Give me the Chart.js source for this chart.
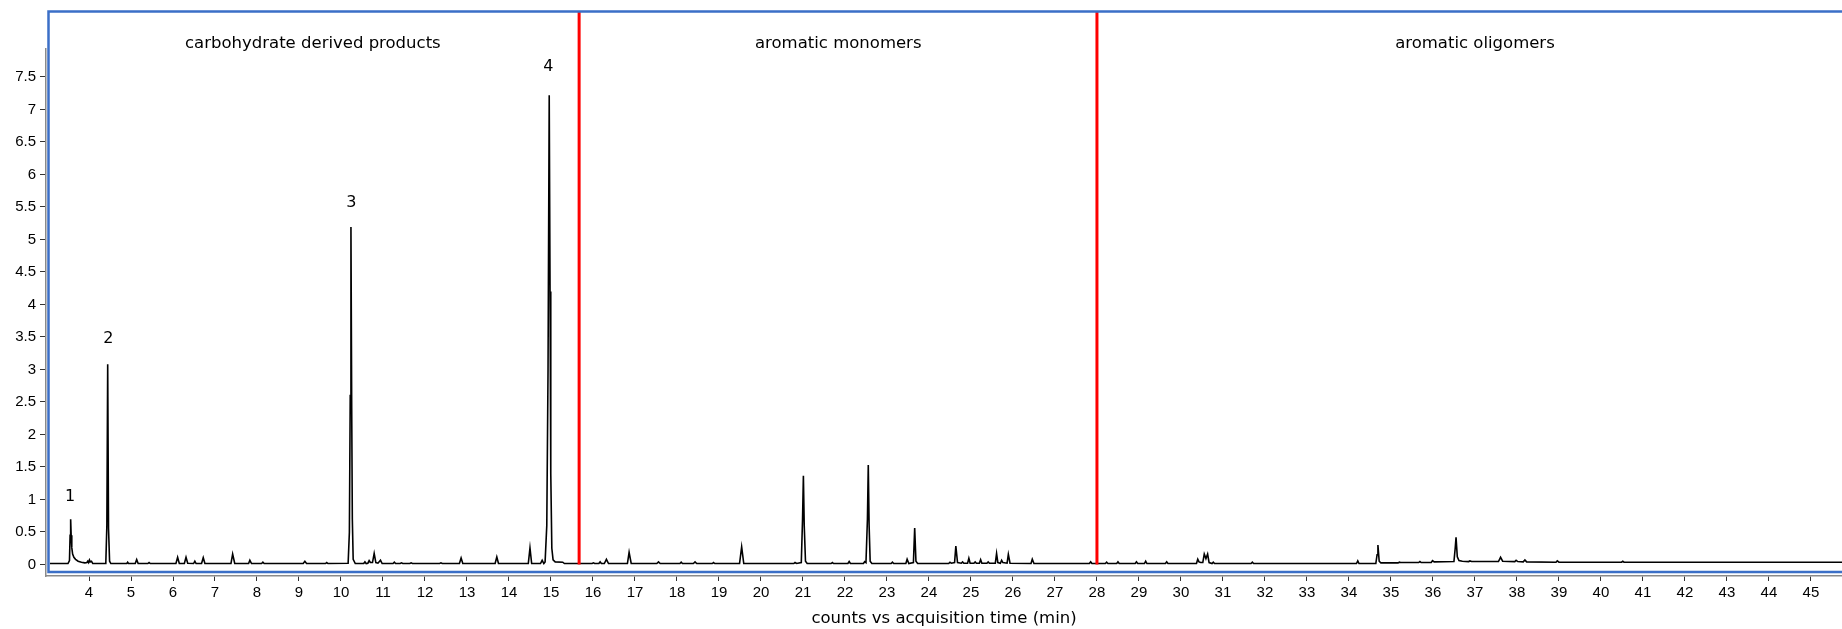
<!DOCTYPE html>
<html>
<head>
<meta charset="utf-8">
<script src="https://cdn.jsdelivr.net/npm/chart.js@4.4.1/dist/chart.umd.min.js"></script>
<style>
body { margin: 0; background: #fff; }
</style>
</head>
<body>
<canvas id="chromChart" width="1842" height="629"></canvas>
<script>
// retention time (min) / counts, split by region
const carbTimes = [
  3.07, 3.50, 3.535, 3.55, 3.563, 3.575, 3.59, 3.61, 3.64, 3.68, 3.74, 3.82, 3.90,
  3.95, 3.97, 3.99, 4.01, 4.03, 4.06, 4.09,
  4.40, 4.425, 4.445, 4.465, 4.49, 4.52,
  4.90, 4.92, 4.94, 5.10, 5.135, 5.17, 5.40, 5.43, 5.46,
  6.07, 6.11, 6.15, 6.27, 6.31, 6.35, 6.49, 6.52, 6.55, 6.68, 6.72, 6.76,
  7.38, 7.42, 7.47, 7.80, 7.83, 7.87, 8.11, 8.14, 8.17,
  9.10, 9.14, 9.18, 9.63, 9.66, 9.69,
  10.17, 10.20, 10.22, 10.237, 10.255, 10.27, 10.29, 10.34,
  10.54, 10.57, 10.60, 10.64, 10.67, 10.70, 10.75, 10.79, 10.83, 10.88, 10.94, 10.98,
  11.24, 11.27, 11.30, 11.41, 11.44, 11.47, 11.64, 11.67, 11.70,
  12.35, 12.38, 12.41, 12.82, 12.86, 12.90, 13.67, 13.71, 13.75,
  14.46, 14.50, 14.54, 14.75, 14.79, 14.83,
  14.86, 14.90, 14.93, 14.958, 14.978, 14.995, 15.02, 15.05, 15.10, 15.28, 15.32, 15.60
];
const carbCounts = [
  0.015, 0.015, 0.06, 0.45, 0.695, 0.45, 0.26, 0.16, 0.11, 0.08, 0.05, 0.035, 0.025,
  0.03, 0.05, 0.03, 0.07, 0.04, 0.05, 0.015,
  0.015, 0.6, 3.08, 0.55, 0.05, 0.015,
  0.015, 0.035, 0.015, 0.015, 0.075, 0.015, 0.015, 0.03, 0.015,
  0.015, 0.11, 0.015, 0.015, 0.11, 0.02, 0.015, 0.05, 0.015, 0.015, 0.105, 0.015,
  0.015, 0.16, 0.015, 0.015, 0.065, 0.015, 0.015, 0.035, 0.015,
  0.015, 0.05, 0.015, 0.015, 0.03, 0.015,
  0.02, 0.5, 2.6, 5.19, 2.4, 0.7, 0.08, 0.015,
  0.015, 0.04, 0.015, 0.02, 0.06, 0.03, 0.03, 0.17, 0.03, 0.02, 0.065, 0.015,
  0.015, 0.035, 0.015, 0.015, 0.025, 0.015, 0.015, 0.025, 0.015,
  0.015, 0.025, 0.015, 0.015, 0.10, 0.015, 0.015, 0.115, 0.015,
  0.015, 0.254, 0.015, 0.015, 0.065, 0.015,
  0.04, 0.6, 3.0, 7.22, 4.2, 1.4, 0.25, 0.07, 0.04, 0.035, 0.015, 0.015
];

const monoTimes = [
  15.98, 16.01, 16.04, 16.14, 16.17, 16.20, 16.27, 16.32, 16.37,
  16.82, 16.86, 16.91, 17.52, 17.56, 17.60, 18.07, 18.10, 18.13,
  18.39, 18.43, 18.47, 18.84, 18.87, 18.90, 19.49, 19.54, 19.59,
  20.78, 20.81, 20.85, 20.96, 20.99, 21.01, 21.03, 21.06, 21.10,
  21.67, 21.70, 21.73, 22.07, 22.10, 22.13,
  22.44, 22.47, 22.50, 22.535, 22.555, 22.575, 22.60, 22.64,
  23.10, 23.13, 23.16, 23.45, 23.48, 23.52, 23.63, 23.66, 23.69, 23.73,
  24.47, 24.50, 24.53, 24.61, 24.64, 24.68, 24.77, 24.80, 24.83,
  24.92, 24.95, 24.98, 25.07, 25.10, 25.13, 25.20, 25.23, 25.26,
  25.38, 25.41, 25.44, 25.58, 25.61, 25.64, 25.70, 25.73, 25.76,
  25.86, 25.89, 25.93, 26.43, 26.46, 26.50, 27.82, 27.85, 27.88
];
const monoCounts = [
  0.015, 0.025, 0.015, 0.015, 0.04, 0.015, 0.015, 0.08, 0.015,
  0.015, 0.187, 0.015, 0.015, 0.04, 0.015, 0.015, 0.035, 0.015,
  0.015, 0.04, 0.015, 0.015, 0.03, 0.015, 0.015, 0.27, 0.015,
  0.015, 0.03, 0.015, 0.03, 0.7, 1.366, 0.6, 0.05, 0.015,
  0.015, 0.03, 0.015, 0.015, 0.045, 0.015,
  0.015, 0.045, 0.03, 0.7, 1.53, 0.6, 0.05, 0.015,
  0.015, 0.035, 0.015, 0.015, 0.08, 0.015, 0.03, 0.56, 0.05, 0.015,
  0.015, 0.035, 0.02, 0.03, 0.285, 0.03, 0.02, 0.04, 0.02,
  0.02, 0.095, 0.02, 0.02, 0.04, 0.02, 0.02, 0.075, 0.02,
  0.02, 0.04, 0.02, 0.02, 0.17, 0.03, 0.02, 0.065, 0.03,
  0.02, 0.155, 0.02, 0.015, 0.08, 0.015, 0.015, 0.04, 0.015
];

const oligoTimes = [
  28.20, 28.23, 28.26, 28.47, 28.50, 28.53, 28.91, 28.94, 28.97,
  29.13, 29.16, 29.19, 29.63, 29.66, 29.69,
  30.37, 30.40, 30.43, 30.47, 30.52, 30.555, 30.595, 30.635, 30.67,
  30.74, 30.77, 30.80, 31.67, 31.70, 31.73, 34.18, 34.21, 34.24,
  34.64, 34.67, 34.69, 34.72, 34.76,
  35.17, 35.20, 35.23, 35.66, 35.69, 35.72, 35.96, 35.99, 36.03,
  36.50, 36.53, 36.55, 36.58, 36.62, 36.70,
  36.85, 36.88, 36.92, 37.56, 37.61, 37.66, 37.95, 37.98, 38.02,
  38.15, 38.19, 38.23, 38.93, 38.96, 39.00, 40.49, 40.52, 40.55, 45.80
];
const oligoCounts = [
  0.015, 0.035, 0.015, 0.015, 0.04, 0.015, 0.015, 0.04, 0.015,
  0.015, 0.05, 0.015, 0.015, 0.04, 0.015,
  0.015, 0.08, 0.04, 0.03, 0.03, 0.16, 0.09, 0.16, 0.03,
  0.015, 0.035, 0.015, 0.015, 0.035, 0.015, 0.015, 0.055, 0.015,
  0.015, 0.15, 0.30, 0.05, 0.025,
  0.025, 0.035, 0.03, 0.03, 0.045, 0.03, 0.03, 0.06, 0.04,
  0.045, 0.25, 0.42, 0.12, 0.06, 0.05,
  0.045, 0.055, 0.045, 0.045, 0.11, 0.05, 0.045, 0.065, 0.045,
  0.04, 0.07, 0.04, 0.035, 0.055, 0.035, 0.035, 0.05, 0.035, 0.035
];

const sectionNames = ['carbohydrate derived products', 'aromatic monomers', 'aromatic oligomers'];
const sectionCenters = [9.33, 21.84, 37.0];
const sectionBounds = [15.67, 28.0];

const peakNumbers = ['1', '2', '3', '4'];
const peakLabelTimes = [3.55, 4.46, 10.245, 14.94];
const peakLabelCounts = [0.97, 3.40, 5.50, 7.59];

const xTicks = [];
for (let m = 4; m <= 45; m++) xTicks.push(m);
const yTicks = [0, 0.5, 1, 1.5, 2, 2.5, 3, 3.5, 4, 4.5, 5, 5.5, 6, 6.5, 7, 7.5];

const allTimes = carbTimes.concat(monoTimes, oligoTimes);
const allCounts = carbCounts.concat(monoCounts, oligoCounts);
const points = allTimes.map((t, i) => ({ x: t, y: allCounts[i] }));

// blue frame, red section lines and the text labels on top
const overlay = {
  id: 'overlay',
  afterDatasetsDraw(chart) {
    const { ctx, chartArea, scales: { x, y } } = chart;
    ctx.save();

    ctx.strokeStyle = '#ff0000';
    ctx.lineWidth = 3;
    sectionBounds.forEach(t => {
      const px = x.getPixelForValue(t);
      ctx.beginPath();
      ctx.moveTo(px, 12);
      ctx.lineTo(px, y.getPixelForValue(0));
      ctx.stroke();
    });

    ctx.fillStyle = '#000';
    ctx.textAlign = 'center';
    ctx.textBaseline = 'alphabetic';
    ctx.font = '16.5px "DejaVu Sans"';
    sectionNames.forEach((name, i) => {
      ctx.fillText(name, x.getPixelForValue(sectionCenters[i]), chartArea.top - 1.5);
    });

    ctx.font = '16px "DejaVu Sans"';
    peakNumbers.forEach((n, i) => {
      ctx.fillText(n, x.getPixelForValue(peakLabelTimes[i]), y.getPixelForValue(peakLabelCounts[i]));
    });

    ctx.strokeStyle = '#3b6fc7';
    ctx.lineWidth = 2.5;
    ctx.beginPath();
    ctx.moveTo(chart.width + 5, 11.5);
    ctx.lineTo(chartArea.left + 2.5, 11.5);
    ctx.lineTo(chartArea.left + 2.5, chartArea.bottom - 4);
    ctx.lineTo(chart.width + 5, chartArea.bottom - 4);
    ctx.stroke();

    ctx.restore();
  }
};

const tickFont = { family: 'Liberation Sans', size: 15 };

const ctx = document.getElementById('chromChart');

new Chart(ctx, {
  type: 'line',
  data: {
    datasets: [{
      data: points,
      borderColor: '#000',
      borderWidth: 1.6,
      pointRadius: 0,
      tension: 0,
      fill: false
    }]
  },
  options: {
    responsive: false,
    animation: false,
    layout: { padding: { top: 49, left: 0, right: 0, bottom: 0 } },
    plugins: {
      legend: { display: false },
      tooltip: { enabled: false }
    },
    scales: {
      x: {
        type: 'linear',
        min: 2.976,
        max: 45.74,
        afterBuildTicks: s => { s.ticks = xTicks.map(v => ({ value: v })); },
        afterFit: s => { s.height = 53; },
        grid: { drawOnChartArea: false, drawTicks: true, tickLength: 5, color: '#333' },
        border: { display: true, color: '#8a8a8a', width: 1.5 },
        ticks: {
          font: tickFont,
          color: '#000',
          padding: 3,
          maxRotation: 0,
          autoSkip: false,
          callback: v => String(v)
        },
        title: {
          display: true,
          text: 'counts vs acquisition time (min)',
          font: { family: 'DejaVu Sans', size: 16.5 },
          color: '#000',
          padding: { top: 0, bottom: 0 }
        }
      },
      y: {
        min: -0.177,
        max: 7.93,
        afterBuildTicks: s => { s.ticks = yTicks.map(v => ({ value: v })); },
        afterFit: s => { s.width = 46; },
        grid: { drawOnChartArea: false, drawTicks: true, tickLength: 6, color: '#333' },
        border: { display: true, color: '#8a8a8a', width: 1.5 },
        ticks: {
          font: tickFont,
          color: '#000',
          padding: 4,
          callback: v => String(v)
        }
      }
    }
  },
  plugins: [overlay]
});
</script>
</body>
</html>
